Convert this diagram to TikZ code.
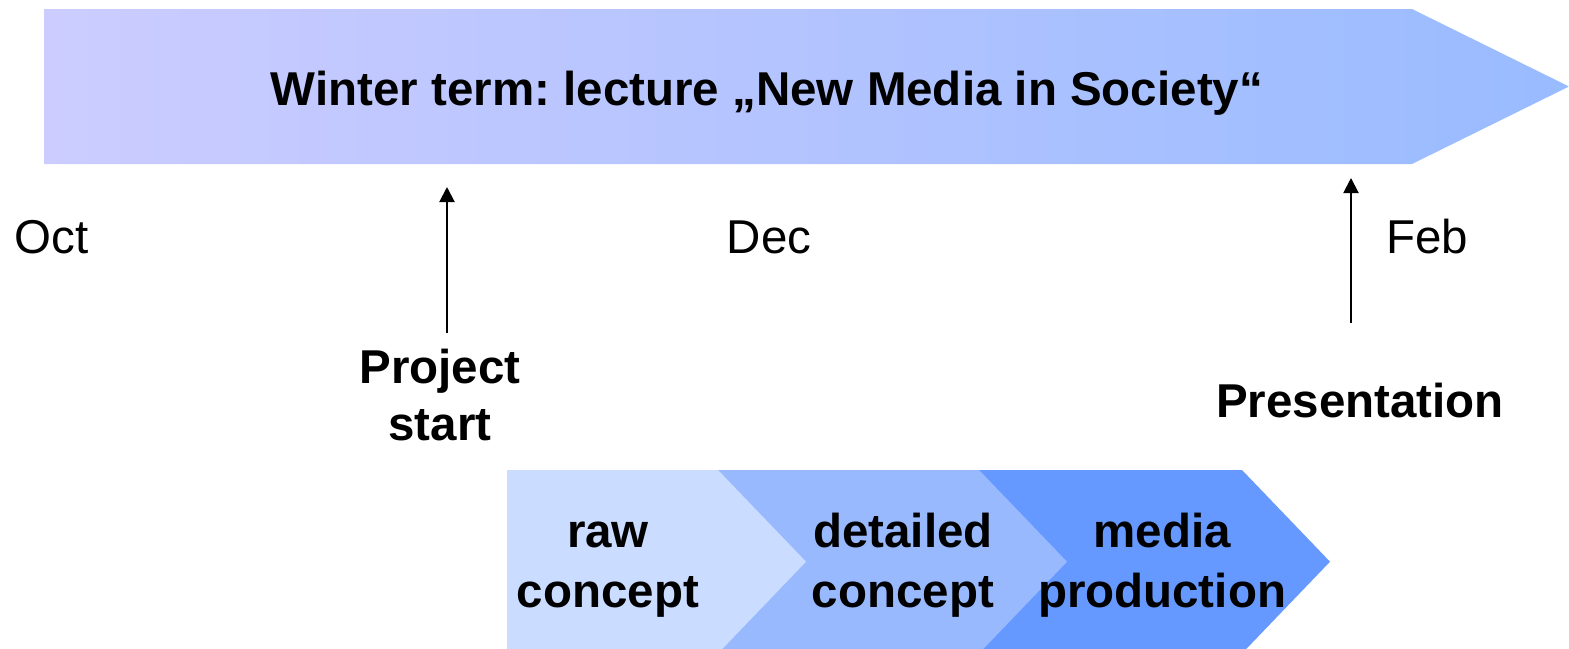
\documentclass[tikz,border=0pt]{standalone}
\usepackage{fontspec}
\setmainfont{Liberation Sans}
\usetikzlibrary{arrows.meta}
\definecolor{gl}{HTML}{CCCCFF}
\definecolor{gr}{HTML}{99BBFF}
\definecolor{ca}{HTML}{CADCFF}
\definecolor{cb}{HTML}{99B9FF}
\definecolor{cc}{HTML}{6699FF}
\tikzset{
  lbl/.style={inner sep=0pt, font=\fontsize{47.5}{57}\selectfont\frenchspacing},
  blbl/.style={inner sep=0pt, align=center, font=\fontsize{47.5}{57}\selectfont\bfseries\frenchspacing},
  clbl/.style={inner sep=0pt, align=center, font=\fontsize{47.5}{60}\selectfont\bfseries},
  uparrow/.style={line width=2pt, -{Triangle[length=15pt,width=15pt]}},
}
\begin{document}
\begin{tikzpicture}[x=1pt,y=-1pt]
\useasboundingbox (0,0) rectangle (1569,648);
% big term arrow
\shade[left color=gl, right color=gr] (44,9) -- (1412,9) -- (1569,86.5) -- (1412,164) -- (44,164) -- cycle;
\node[blbl, anchor=base] (title) at (767,105) {Winter term: lecture „New Media in Society“};
% months
\node[lbl, anchor=base] (oct) at (51.5,253) {Oct};
\node[lbl, anchor=base] (dec) at (769,253) {Dec};
\node[lbl, anchor=base] (feb) at (1427,253) {Feb};
% milestones
\node[blbl, anchor=base] (pstart) at (440,440) {Project\\start};
\node[blbl, anchor=base] (pres) at (1360,417) {Presentation};
\coordinate (a1s) at (447,333);
\coordinate (a1e) at (447,187);
\coordinate (a2s) at (1351,323);
\coordinate (a2e) at (1351,178);
\draw[uparrow] (a1s) -- (a1e);
\draw[uparrow] (a2s) -- (a2e);
% phase chevrons
\begin{scope}
\clip (0,0) rectangle (1569,648);
\fill[cc] (960,470) -- (1242,470) -- (1330,561.7) -- (1242,653.4) -- (960,653.4) -- cycle;
\fill[cb] (700,470) -- (979,470) -- (1067,561.7) -- (979,653.4) -- (700,653.4) -- cycle;
\fill[ca] (507,470) -- (718,470) -- (806,561.7) -- (718,653.4) -- (507,653.4) -- cycle;
\end{scope}
\node[clbl, anchor=base] (raw) at (608,607) {raw\\concept};
\node[clbl, anchor=base] (det) at (903,607) {detailed\\concept};
\node[clbl, anchor=base] (med) at (1162,607) {media\\production};
\end{tikzpicture}
\end{document}
